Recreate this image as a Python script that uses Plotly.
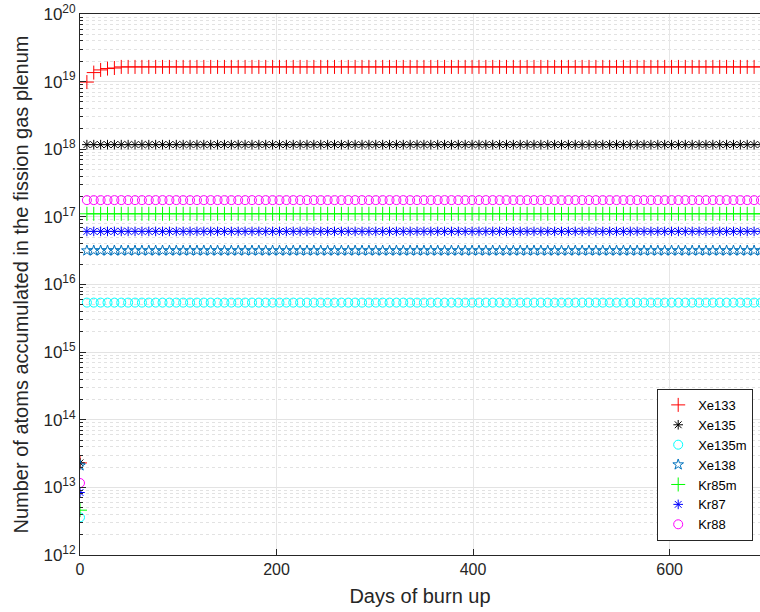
import plotly.graph_objects as go

# ---- data ----
days = list(range(0, 701, 7))

xe133_start = [2.3e13, 9.85e18, 1.36e19, 1.49e19, 1.56e19, 1.59e19]
xe133_steady = 1.65e19
xe135_start, xe135_steady = 2.3e13, 1.17e18
xe135m_start, xe135m_steady = 3.6e12, 5.4e15
xe138_start, xe138_steady = 2.1e13, 3.17e16
kr85m_start, kr85m_steady = 4.6e12, 1.11e17
kr87_start, kr87_steady = 8.4e12, 6.1e16
kr88_start, kr88_steady = 1.16e13, 1.77e17

n = len(days)
xe133 = xe133_start + [xe133_steady] * (n - len(xe133_start))
xe135 = [xe135_start] + [xe135_steady] * (n - 1)
xe135m = [xe135m_start] + [xe135m_steady] * (n - 1)
xe138 = [xe138_start] + [xe138_steady] * (n - 1)
kr85m = [kr85m_start] + [kr85m_steady] * (n - 1)
kr87 = [kr87_start] + [kr87_steady] * (n - 1)
kr88 = [kr88_start] + [kr88_steady] * (n - 1)

y_tick_exps = list(range(12, 21))

series = [
    ("Xe133", xe133, "cross-thin-open", "#ff0000", 10),
    ("Xe135", xe135, "asterisk-open", "#000000", 8),
    ("Xe135m", xe135m, "circle-open", "#00ffff", 9),
    ("Xe138", xe138, "star-open", "#0072bd", 8),
    ("Kr85m", kr85m, "cross-thin-open", "#00ff00", 10),
    ("Kr87", kr87, "asterisk-open", "#0000ff", 8),
    ("Kr88", kr88, "circle-open", "#ff00ff", 9),
]

fig = go.Figure()
for name, vals, sym, col, sz in series:
    fig.add_trace(go.Scatter(
        x=days, y=vals, mode="markers", name=name,
        marker=dict(symbol=sym, size=sz, color=col, line=dict(color=col, width=1)),
    ))

font_family = "Liberation Sans, Arial, sans-serif"

fig.update_layout(
    width=760, height=612,
    margin=dict(l=80, r=0, t=14, b=57, autoexpand=False),
    paper_bgcolor="white", plot_bgcolor="white",
    font=dict(family=font_family, color="#262626"),
    showlegend=True,
    legend=dict(
        x=0.99, y=0.026, xanchor="right", yanchor="bottom",
        bgcolor="white", bordercolor="#262626", borderwidth=1,
        font=dict(size=13, color="#000000"),
        tracegroupgap=0,
    ),
    xaxis=dict(
        range=[0, 692],
        tickvals=[0, 200, 400, 600],
        ticks="inside", ticklen=6, tickcolor="#262626",
        showline=True, linecolor="#262626", linewidth=1, mirror=True,
        showgrid=True, gridcolor="#e6e6e6", gridwidth=1,
        zeroline=False, automargin=False,
        tickfont=dict(size=16),
        title=dict(text="Days of burn up", font=dict(size=20), standoff=11),
    ),
    yaxis=dict(
        type="log",
        range=[12, 20],
        tickvals=[10.0 ** e for e in y_tick_exps],
        ticktext=[f"10<sup>{e}</sup>" for e in y_tick_exps],
        ticks="inside", ticklen=6, tickcolor="#262626",
        showline=True, linecolor="#262626", linewidth=1, mirror=True,
        showgrid=True, gridcolor="#e3e3e3", gridwidth=1,
        zeroline=False, automargin=False,
        tickfont=dict(size=17),
        minor=dict(dtick="D1", ticks="inside", ticklen=3, tickcolor="#262626",
                   showgrid=True, gridcolor="#e2e2e2", griddash="dot"),
        title=dict(text="Number of atoms accumulated in the fission gas plenum",
                   font=dict(size=20), standoff=9),
    ),
)

# remove the page's default body margin so the 760x612 figure fills the window exactly
fig.write_html(
    "out.html",
    config={"displayModeBar": False},
    post_script="document.body.style.margin='0';document.body.style.overflow='hidden';",
)
